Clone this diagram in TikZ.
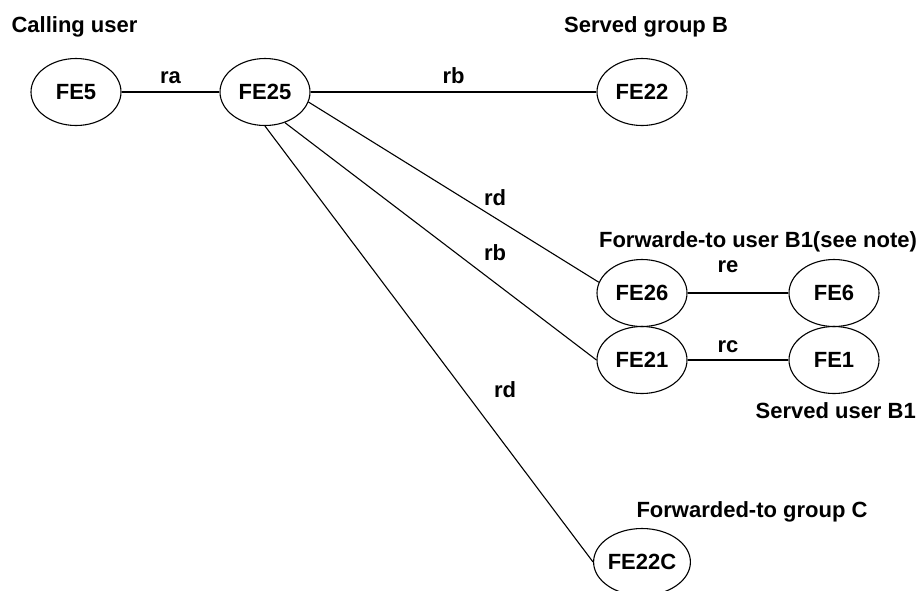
\documentclass[tikz,border=0pt]{standalone}
\usepackage{fontspec}
\setmainfont{Liberation Sans}
\usetikzlibrary{shapes.geometric}
\begin{document}
\begin{tikzpicture}[x=1pt,y=-1pt,
  fe/.style={draw,ellipse,line width=1.1pt,minimum width=90pt,minimum height=67pt,inner sep=0pt,font=\fontsize{22}{25}\selectfont\bfseries},
  lbl/.style={anchor=base,inner sep=0pt,font=\fontsize{22}{25}\selectfont\bfseries},
  conn/.style={line width=1.1pt}]
\useasboundingbox (0,0) rectangle (918,590);
\begin{scope}
\clip (0,0) rectangle (918,590);
\node[fe] (FE5) at (76,92) {FE5};
\node[fe] (FE25) at (265,92) {FE25};
\node[fe] (FE22) at (642,92) {FE22};
\node[fe] (FE26) at (642,293) {FE26};
\node[fe] (FE6) at (834,293) {FE6};
\node[fe] (FE21) at (642,360) {FE21};
\node[fe] (FE1) at (834,360) {FE1};
\node[fe] (FE22C) at (642,562) {FE22C};
\end{scope}

\node[lbl] (t1) at (74.5,32) {Calling user};
\node[lbl] (t2) at (646,32) {Served group B};
\node[lbl] (t3) at (758,247) {Forwarde-to user B1(see note)};
\node[lbl,anchor=base east] (t4) at (916,418) {Served user B1};
\node[lbl] (t5) at (752,517) {Forwarded-to group C};

\draw[conn] (FE5) -- (FE25) node[lbl,pos=0.5,above=8pt] (ra) {ra};
\draw[conn] (FE25) -- (FE22) node[lbl,pos=0.5,above=8pt] (rb1) {rb};
\draw[conn] (FE25.-13) -- (FE26.166);
\draw[conn] (FE25.-57.5) -- (FE21.180);
\draw[conn] (FE25.-90) -- (FE22C.180);
\draw[conn] (FE26) -- (FE6);
\draw[conn] (FE21) -- (FE1);

\node[lbl] (rd1) at (495,205) {rd};
\node[lbl] (rb2) at (495,260) {rb};
\node[lbl] (rd2) at (505,397) {rd};
\node[lbl] (re) at (728,272) {re};
\node[lbl] (rc) at (728,352) {rc};
\end{tikzpicture}
\end{document}
